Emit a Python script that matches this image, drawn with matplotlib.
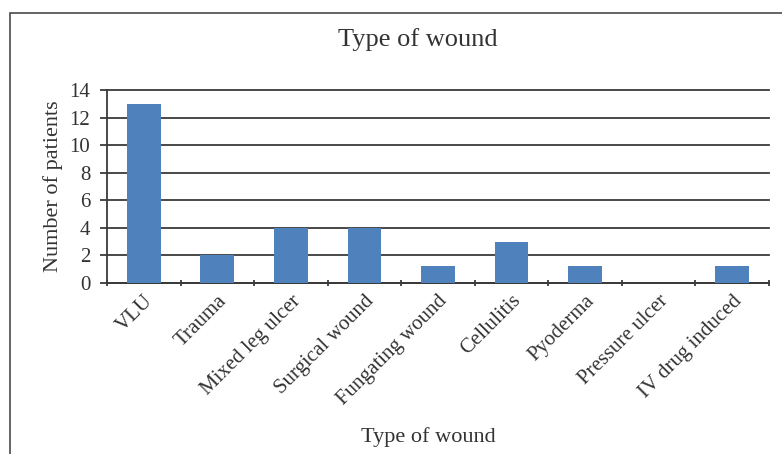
import matplotlib
matplotlib.use("Agg")
import matplotlib.pyplot as plt
from matplotlib.patches import Rectangle

wound_types = ["VLU", "Trauma", "Mixed leg ulcer", "Surgical wound", "Fungating wound",
               "Cellulitis", "Pyoderma", "Pressure ulcer", "IV drug induced"]
patients = [13, 2, 4, 4, 1.2, 3, 1.2, 0, 1.2]
y_ticks = [0, 2, 4, 6, 8, 10, 12, 14]

txt = "#333333"
plt.rcParams["font.family"] = ["Liberation Serif", "DejaVu Serif"]

W, H = 782, 454
fig = plt.figure(figsize=(W / 100, H / 100), dpi=100)

# outer chart border (runs off the right and bottom edge)
fig.patches.append(Rectangle((10 / W, -0.1), 1.1, (H - 13) / H + 0.1,
                             transform=fig.transFigure, fill=False,
                             edgecolor="#4a4a4a", lw=1.2))

ax = fig.add_axes([107 / W, (H - 283) / H, (769 - 107) / W, (283 - 90) / H])
x = list(range(len(wound_types)))
ax.bar(x, patients, width=0.46, color="#4F81BD", zorder=3)

ax.set_xlim(-0.5, len(wound_types) - 0.5)
ax.set_ylim(0, 14)
ax.set_yticks(y_ticks)
ax.yaxis.grid(True, color="#3a3a3a", lw=1.3, zorder=0)
for g in ax.yaxis.get_gridlines():
    g.set_clip_on(False)
ax.set_axisbelow(True)

ax.set_xticks(x)
ax.set_xticklabels(wound_types, rotation=45, ha="right", va="top",
                   rotation_mode="anchor", fontsize=15, color=txt)
ax.set_xticks([i - 0.5 for i in range(len(wound_types) + 1)], minor=True)
ax.tick_params(axis="x", which="major", length=0, pad=6)
ax.tick_params(axis="x", which="minor", length=5, width=1.3, color="#3a3a3a",
               direction="inout")
ax.tick_params(axis="y", length=5, width=1.3, color="#3a3a3a", labelsize=15,
               labelcolor=txt, direction="out", pad=7)

for s in ["top", "right"]:
    ax.spines[s].set_visible(False)
for s in ["left", "bottom"]:
    ax.spines[s].set_color("#3a3a3a")
    ax.spines[s].set_linewidth(1.3)

ax.set_ylabel("Number of patients", fontsize=16, color=txt, labelpad=5)
fig.text(418 / W, 1 - 40 / H, "Type of wound", ha="center", va="center",
         fontsize=19, color=txt)
fig.text(428 / W, 1 - 437 / H, "Type of wound", ha="center", va="center",
         fontsize=16, color=txt)

fig.savefig("out.png", dpi=100)
